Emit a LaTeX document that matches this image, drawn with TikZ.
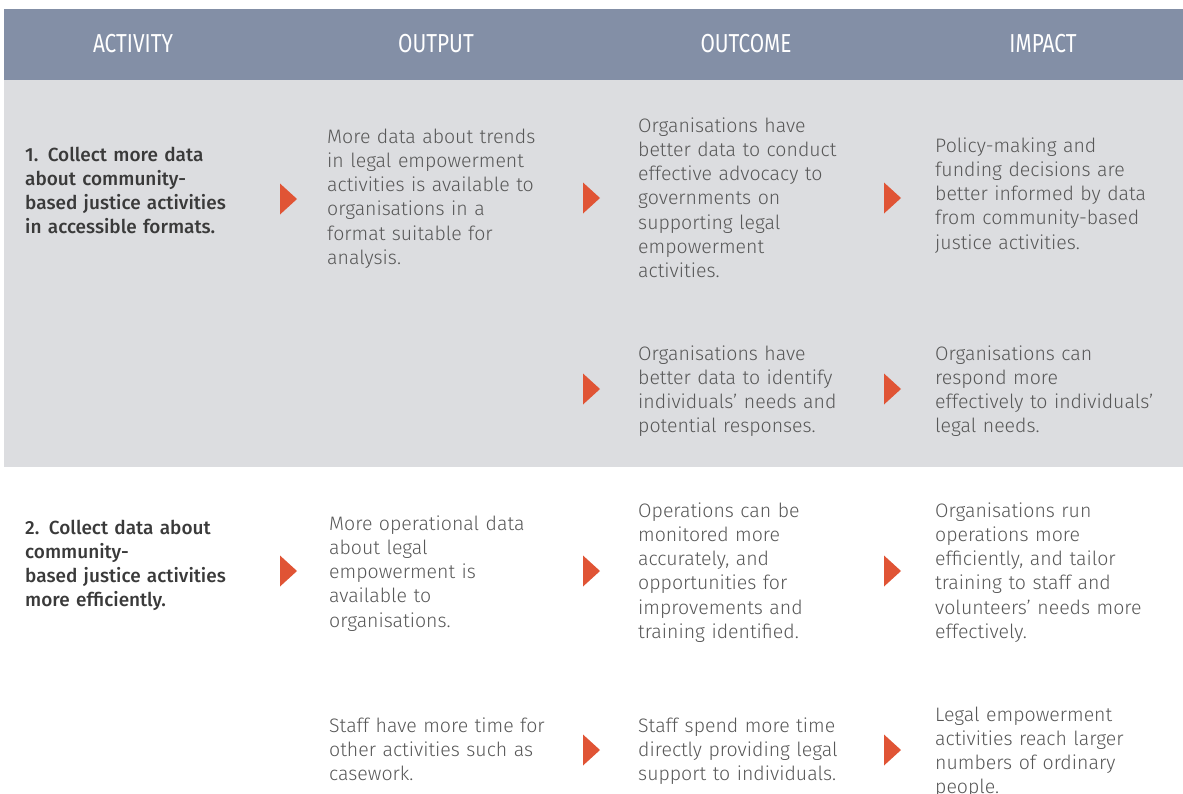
\documentclass[tikz,border=0pt]{standalone}
\usepackage{fontspec}
\IfFontExistsTF{Fira Sans Light}
  {\setmainfont{Fira Sans Light}[BoldFont=Fira Sans Medium, Numbers=Proportional]
   \newfontfamily\headfont{Fira Sans}[FakeStretch=0.8]}
  {\setmainfont{Liberation Sans}
   \newfontfamily\headfont{Liberation Sans}[FakeStretch=0.8]}
\definecolor{headbg}{HTML}{838FA6}
\definecolor{bandbg}{HTML}{DCDDE0}
\definecolor{bodytxt}{HTML}{575757}
\definecolor{boldtxt}{HTML}{3A3A3A}
\definecolor{arrowc}{HTML}{E05435}
\tikzset{
  head/.style={text=white, font=\headfont\fontsize{26}{29}\selectfont, inner sep=0pt},
  body/.style={text=bodytxt, font=\fontsize{19.5}{24.3}\selectfont, align=left,
    text width=270pt, inner sep=0pt, anchor=base west},
  act/.style={text=boldtxt, font=\bfseries\fontsize{19}{24.2}\selectfont, align=left,
    text width=270pt, inner sep=0pt, anchor=base west},
  tri/.pic={\fill[arrowc] (0,-15.5) -- (17,0) -- (0,15.5) -- cycle;}
}
\begin{document}
\begin{tikzpicture}[x=1pt, y=-1pt]
  \useasboundingbox (0,0) rectangle (1183,793);
  \begin{scope}
    \clip (0,0) rectangle (1183,793);
    % bands
    \fill[headbg] (4,9) rectangle (1183,80);
    \fill[bandbg] (4,80) rectangle (1183,467);

    % column headings
    \node[head] (hact) at (133,44) {ACTIVITY};
    \node[head] (hout) at (436,44) {OUTPUT};
    \node[head] (hoc)  at (746,44) {OUTCOME};
    \node[head] (himp) at (1043,44) {IMPACT};

    % first activity
    \node[act] (a1) at (25,161) {1. Collect more data\\about community-\\based justice activities\\in accessible formats.};
    \node[body] (o1) at (327,143) {More data about trends\\in legal empowerment\\activities is available to\\organisations in a\\format suitable for\\analysis.};
    \node[body] (c1) at (638,132) {Organisations have\\better data to conduct\\effective advocacy to\\governments on\\supporting legal\\empowerment\\activities.};
    \node[body] (i1) at (935,152) {Policy-making and\\funding decisions are\\better informed by data\\from community-based\\justice activities.};
    \node[body] (c1b) at (638,360) {Organisations have\\better data to identify\\individuals’ needs and\\potential responses.};
    \node[body] (i1b) at (935,360) {Organisations can\\respond more\\effectively to individuals’\\legal needs.};

    % second activity
    \node[act] (a2) at (25,534) {2. Collect data about\\community-\\based justice activities\\more efficiently.};
    \node[body] (o2) at (329,530) {More operational data\\about legal\\empowerment is\\available to\\organisations.};
    \node[body] (c2) at (638,517) {Operations can be\\monitored more\\accurately, and\\opportunities for\\improvements and\\training identified.};
    \node[body] (i2) at (935,517) {Organisations run\\operations more\\efficiently, and tailor\\training to staff and\\volunteers’ needs more\\effectively.};
    \node[body] (o2b) at (329,732) {Staff have more time for\\other activities such as\\casework.};
    \node[body] (c2b) at (638,732) {Staff spend more time\\directly providing legal\\support to individuals.};
    \node[body] (i2b) at (935,721) {Legal empowerment\\activities reach larger\\numbers of ordinary\\people.};

    % flow markers
    \pic at (280,199) {tri};
    \pic at (583,198) {tri};
    \pic at (884,198) {tri};
    \pic at (583,389) {tri};
    \pic at (884,389) {tri};
    \pic at (280,571) {tri};
    \pic at (583,571) {tri};
    \pic at (884,571) {tri};
    \pic at (583,750) {tri};
    \pic at (884,750) {tri};
  \end{scope}
\end{tikzpicture}
\end{document}
